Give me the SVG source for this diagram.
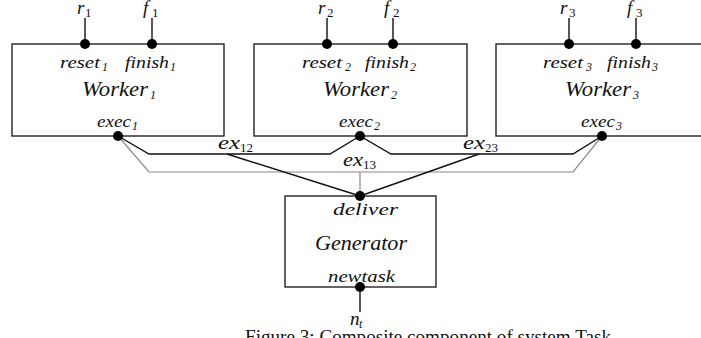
<svg xmlns="http://www.w3.org/2000/svg" width="701" height="338" viewBox="0 0 701 338">
  <style>
    .box { fill: #fff; stroke: #222; stroke-width: 1.4; }
    .pin { stroke: #111; stroke-width: 1.4; fill: none; }
    .dot { fill: #000; }
    .wire { fill: none; stroke: #111; stroke-width: 1.4; stroke-linejoin: miter; }
    .wire-gray { fill: none; stroke: #888; stroke-width: 1.2; }
    text { font-family: "Liberation Serif", "Times New Roman", serif; fill: #111; }
    .port { font-size: 17px; font-style: italic; }
    .name { font-size: 21px; font-style: italic; }
    .var { font-size: 19px; font-style: italic; }
    .sub { font-size: 12px; font-style: italic; }
    .subn { font-size: 13px; font-style: normal; }
    .cap { font-size: 18px; }
  </style>

  <!-- connectors between the exec ports and the generator -->
  <g id="connectors">
    <polyline class="wire-gray" points="118,136 149,172 573,172 602,136"/>
    <line class="wire-gray" x1="360" y1="172" x2="360" y2="196"/>
    <polyline class="wire" points="118,136 149,154 330,154 360,136 391,154 573,154 602,136"/>
    <line class="wire" x1="227" y1="154" x2="360" y2="196"/>
    <line class="wire" x1="479" y1="154" x2="360" y2="196"/>
    <text class="var" x="218" y="149" textLength="22" lengthAdjust="spacingAndGlyphs">ex</text>
    <text class="subn" x="240" y="152">12</text>
    <text class="var" x="343" y="166" textLength="20" lengthAdjust="spacingAndGlyphs">ex</text>
    <text class="subn" x="363" y="169">13</text>
    <text class="var" x="463" y="149" textLength="22" lengthAdjust="spacingAndGlyphs">ex</text>
    <text class="subn" x="485" y="152">23</text>
  </g>

  <!-- Worker 1 -->
  <g id="worker1">
    <rect class="box" x="12" y="44" width="212" height="92"/>
    <line class="pin" x1="85" y1="18" x2="85" y2="44"/>
    <line class="pin" x1="152" y1="18" x2="152" y2="44"/>
    <circle class="dot" cx="85" cy="44" r="5"/>
    <circle class="dot" cx="152" cy="44" r="5"/>
    <circle class="dot" cx="118" cy="136" r="5"/>
    <text class="var" x="77" y="14">r</text><text class="subn" x="85" y="17">1</text>
    <text class="var" x="143" y="14">f</text><text class="subn" x="152" y="17">1</text>
    <text class="port" x="60" y="68" textLength="40" lengthAdjust="spacingAndGlyphs">reset</text><text class="sub" x="102" y="71">1</text>
    <text class="port" x="125" y="68" textLength="44" lengthAdjust="spacingAndGlyphs">finish</text><text class="sub" x="170" y="71">1</text>
    <text class="name" x="82" y="96" textLength="66" lengthAdjust="spacingAndGlyphs">Worker</text><text class="sub" x="150" y="99">1</text>
    <text class="port" x="97" y="127" textLength="34" lengthAdjust="spacingAndGlyphs">exec</text><text class="sub" x="132" y="130">1</text>
  </g>

  <!-- Worker 2 -->
  <g id="worker2">
    <rect class="box" x="254" y="44" width="213" height="92"/>
    <line class="pin" x1="327" y1="18" x2="327" y2="44"/>
    <line class="pin" x1="393" y1="18" x2="393" y2="44"/>
    <circle class="dot" cx="327" cy="44" r="5"/>
    <circle class="dot" cx="393" cy="44" r="5"/>
    <circle class="dot" cx="360" cy="136" r="5"/>
    <text class="var" x="318" y="14">r</text><text class="subn" x="327" y="17">2</text>
    <text class="var" x="384" y="14">f</text><text class="subn" x="393" y="17">2</text>
    <text class="port" x="302" y="68" textLength="40" lengthAdjust="spacingAndGlyphs">reset</text><text class="sub" x="345" y="71">2</text>
    <text class="port" x="365" y="68" textLength="44" lengthAdjust="spacingAndGlyphs">finish</text><text class="sub" x="410" y="71">2</text>
    <text class="name" x="323" y="96" textLength="66" lengthAdjust="spacingAndGlyphs">Worker</text><text class="sub" x="391" y="99">2</text>
    <text class="port" x="339" y="127" textLength="34" lengthAdjust="spacingAndGlyphs">exec</text><text class="sub" x="374" y="130">2</text>
  </g>

  <!-- Worker 3 (right edge runs past the frame) -->
  <g id="worker3">
    <rect class="box" x="496" y="44" width="230" height="92"/>
    <line class="pin" x1="569" y1="18" x2="569" y2="44"/>
    <line class="pin" x1="636" y1="18" x2="636" y2="44"/>
    <circle class="dot" cx="569" cy="44" r="5"/>
    <circle class="dot" cx="636" cy="44" r="5"/>
    <circle class="dot" cx="602" cy="136" r="5"/>
    <text class="var" x="560" y="14">r</text><text class="subn" x="569" y="17">3</text>
    <text class="var" x="627" y="14">f</text><text class="subn" x="636" y="17">3</text>
    <text class="port" x="543" y="68" textLength="40" lengthAdjust="spacingAndGlyphs">reset</text><text class="sub" x="586" y="71">3</text>
    <text class="port" x="607" y="68" textLength="44" lengthAdjust="spacingAndGlyphs">finish</text><text class="sub" x="652" y="71">3</text>
    <text class="name" x="565" y="96" textLength="66" lengthAdjust="spacingAndGlyphs">Worker</text><text class="sub" x="633" y="99">3</text>
    <text class="port" x="581" y="127" textLength="34" lengthAdjust="spacingAndGlyphs">exec</text><text class="sub" x="616" y="130">3</text>
  </g>

  <!-- Generator -->
  <g id="generator">
    <rect class="box" x="285" y="196" width="151" height="91"/>
    <line class="pin" x1="360" y1="287" x2="360" y2="312"/>
    <circle class="dot" cx="360" cy="196" r="5"/>
    <circle class="dot" cx="360" cy="287" r="5"/>
    <text class="port" x="333" y="215" textLength="65" lengthAdjust="spacingAndGlyphs">deliver</text>
    <text class="name" x="315" y="250" font-size="19" textLength="92" lengthAdjust="spacingAndGlyphs">Generator</text>
    <text class="port" x="328" y="282" textLength="67" lengthAdjust="spacingAndGlyphs">newtask</text>
    <text class="var" x="350" y="325">n</text><text class="sub" x="359" y="328">t</text>
  </g>

  <!-- figure caption, clipped at the bottom edge -->
  <text class="cap" x="245" y="343" textLength="366" lengthAdjust="spacingAndGlyphs">Figure 3: Composite component of system Task</text>
</svg>
